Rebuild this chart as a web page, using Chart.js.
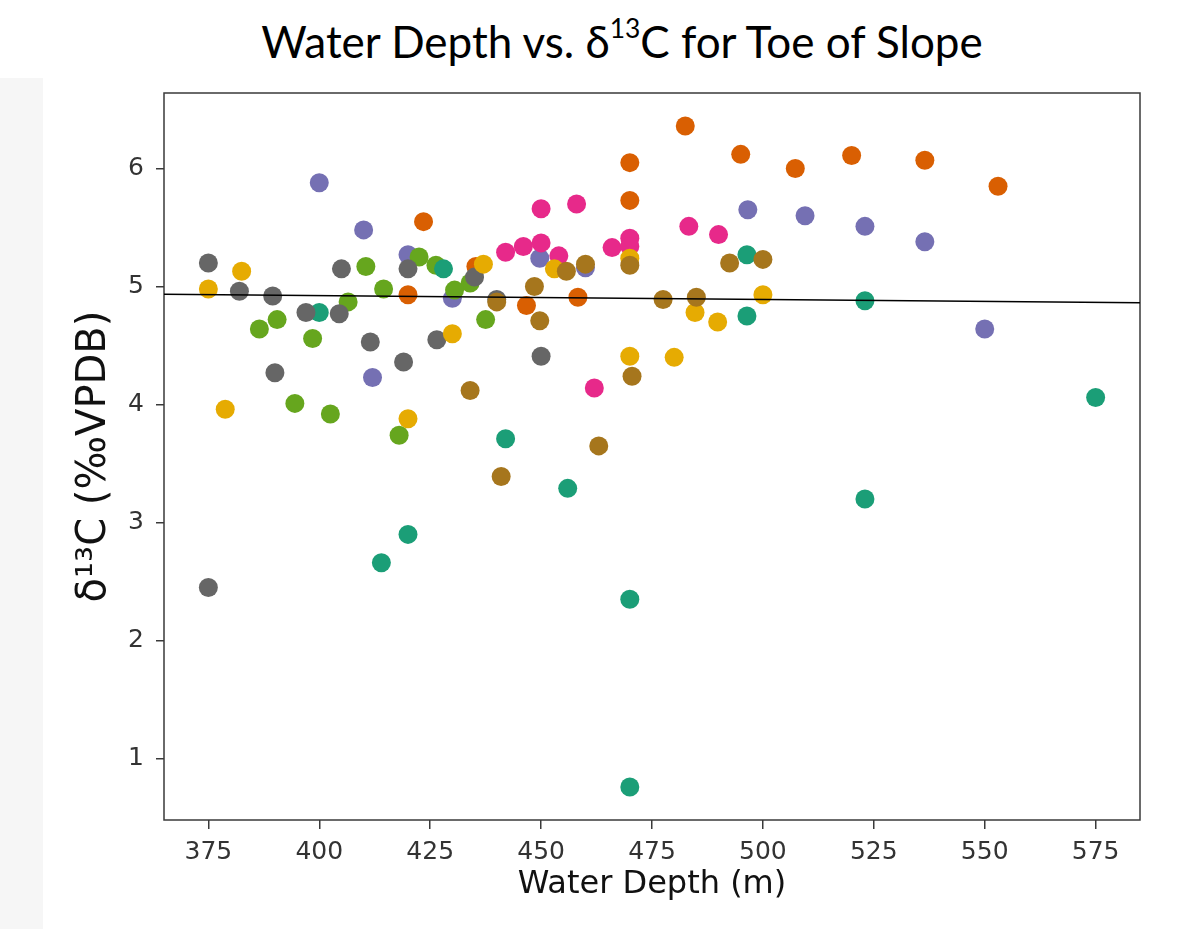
<!DOCTYPE html>
<html>
<head>
<meta charset="utf-8">
<title>Water Depth vs. d13C for Toe of Slope</title>
<script src="https://cdn.jsdelivr.net/npm/chart.js@4.4.1/dist/chart.umd.min.js"></script>
<style>
  body { margin: 0; background: #ffffff; width: 1194px; height: 929px; overflow: hidden; position: relative; }
  #strip { position: absolute; left: 0; top: 78px; width: 43px; height: 851px; background: #f6f6f6; }
  #title { position: absolute; left: 222px; top: 19px; width: 800px; text-align: center;
           font-family: Lato, "Open Sans", sans-serif; font-size: 44px; line-height: 44px; color: #000; }
  #title sup { font-size: 0.6em; line-height: 0; vertical-align: 0.75em; }
  #my_chart { position: absolute; left: 0; top: 0; }
</style>
</head>
<body>
<div id="strip"></div>
<div id="title">Water Depth vs. δ<sup>13</sup>C for Toe of Slope</div>
<canvas id="my_chart" width="1194" height="929"></canvas>

<script>
// tick labels
const xTicks = [375, 400, 425, 450, 475, 500, 525, 550, 575];
const yTicks = [1, 2, 3, 4, 5, 6];

// one pair of arrays per colour group (water depth in m, d13C in permil)
const tealDepth = [400, 428, 420, 414, 442, 456, 470, 470, 496.4, 496.4, 523, 575, 523];
const tealD13C  = [4.78, 5.15, 2.90, 2.66, 3.71, 3.29, 2.35, 0.76, 5.27, 4.75, 4.88, 4.06, 3.20];

const orangeDepth = [423.5, 420, 435.3, 482.5, 470, 495, 507.3, 470, 446.7, 458.3, 520, 536.5, 553];
const orangeD13C  = [5.55, 4.93, 5.17, 6.36, 6.05, 6.12, 6.00, 5.73, 4.84, 4.91, 6.11, 6.07, 5.85];

const purpleDepth = [400, 410, 420, 430, 412, 449.7, 460, 496.6, 509.5, 523, 536.5, 550];
const purpleD13C  = [5.88, 5.48, 5.27, 4.90, 4.23, 5.24, 5.16, 5.65, 5.60, 5.51, 5.38, 4.64];

const pinkDepth = [450, 458, 483.3, 490, 442, 446, 450, 454, 466, 470, 470, 462];
const pinkD13C  = [5.66, 5.70, 5.51, 5.44, 5.29, 5.34, 5.37, 5.26, 5.33, 5.41, 5.34, 4.14];

const greenDepth = [410.5, 422.5, 426.3, 434, 414.5, 430.5, 437.5, 406.5, 386.5, 390.5, 398.5, 394.5, 402.5, 418];
const greenD13C  = [5.17, 5.25, 5.18, 5.03, 4.98, 4.97, 4.72, 4.87, 4.64, 4.72, 4.56, 4.01, 3.92, 3.74];

const yellowDepth = [375, 382.5, 437, 430, 378.8, 420, 453, 470, 484.7, 489.8, 500, 470, 480];
const yellowD13C  = [4.98, 5.13, 5.19, 4.60, 3.96, 3.88, 5.15, 5.24, 4.78, 4.70, 4.93, 4.41, 4.40];

const brownDepth = [434, 455.7, 460, 470, 448.5, 440, 449.7, 477.5, 485, 492.5, 500, 470.5, 463, 441];
const brownD13C  = [4.12, 5.13, 5.19, 5.18, 5.00, 4.87, 4.71, 4.89, 4.91, 5.20, 5.23, 4.24, 3.65, 3.39];

const greyDepth = [375, 405, 420, 435, 382, 389.5, 397, 404.5, 411.5, 426.5, 390, 419, 375, 450, 440];
const greyD13C  = [5.20, 5.15, 5.15, 5.08, 4.96, 4.92, 4.78, 4.77, 4.53, 4.55, 4.27, 4.36, 2.45, 4.41, 4.89];

// trend line end points
const trendDepth = [365, 585];
const trendD13C  = [4.935, 4.862];

function toPoints(xs, ys) {
  return xs.map((x, i) => ({x: x, y: ys[i]}));
}

// frame round the plot area (matplotlib style box)
const frame = {
  id: 'frame',
  beforeDatasetsDraw(chart) {
    const a = chart.chartArea;
    const ctx = chart.ctx;
    ctx.save();
    ctx.strokeStyle = '#3a3a3a';
    ctx.lineWidth = 1.5;
    ctx.strokeRect(a.left, a.top, a.right - a.left, a.bottom - a.top);
    ctx.restore();
  }
};

function scatter(label, xs, ys, color, order) {
  return {
    type: 'scatter',
    label: label,
    data: toPoints(xs, ys),
    backgroundColor: color,
    borderWidth: 0,
    pointRadius: 9.5,
    pointHoverRadius: 9.5,
    order: order
  };
}

const myChart = document.getElementById('my_chart');

let scatterChart = new Chart(myChart, {
  type: 'scatter',
  data: {
    datasets: [
      {
        type: 'line',
        label: 'trend',
        data: toPoints(trendDepth, trendD13C),
        borderColor: '#000000',
        borderWidth: 1.5,
        pointRadius: 0,
        fill: false,
        order: 0
      },
      scatter('brown', brownDepth, brownD13C, '#a6761d', 1),
      scatter('yellow', yellowDepth, yellowD13C, '#e6ab02', 2),
      scatter('grey', greyDepth, greyD13C, '#666666', 3),
      scatter('teal', tealDepth, tealD13C, '#1b9e77', 4),
      scatter('green', greenDepth, greenD13C, '#66a61e', 5),
      scatter('pink', pinkDepth, pinkD13C, '#e7298a', 6),
      scatter('purple', purpleDepth, purpleD13C, '#7570b3', 7),
      scatter('orange', orangeDepth, orangeD13C, '#d95f02', 8)
    ]
  },
  options: {
    responsive: false,
    animation: false,
    layout: { padding: { left: 60, right: 54, top: 93, bottom: 10 } },
    plugins: { legend: { display: false }, tooltip: { enabled: false } },
    scales: {
      x: {
        type: 'linear',
        min: 365,
        max: 585,
        afterBuildTicks: axis => { axis.ticks = xTicks.map(v => ({value: v})); },
        afterFit: axis => { axis.height = 99; },
        grid: { drawOnChartArea: false, drawTicks: true, tickLength: 9, color: '#3a3a3a', lineWidth: 1.5 },
        border: { display: false },
        ticks: { color: '#333333', padding: 8, font: { family: 'DejaVu Sans', size: 25 } },
        title: {
          display: true,
          text: 'Water Depth (m)',
          color: '#111111',
          padding: { top: 0, bottom: 15 },
          font: { family: 'DejaVu Sans', size: 32 }
        }
      },
      y: {
        type: 'linear',
        min: 0.48,
        max: 6.64,
        afterBuildTicks: axis => { axis.ticks = yTicks.map(v => ({value: v})); },
        afterFit: axis => { axis.width = 104; },
        grid: { drawOnChartArea: false, drawTicks: true, tickLength: 8, color: '#3a3a3a', lineWidth: 1.5 },
        border: { display: false },
        ticks: { color: '#333333', padding: 12, font: { family: 'DejaVu Sans', size: 25 } },
        title: {
          display: true,
          text: 'δ¹³C (‰VPDB)',
          color: '#111111',
          padding: { top: 11, bottom: 0 },
          font: { family: 'DejaVu Sans', size: 40 }
        }
      }
    }
  },
  plugins: [frame]
});
</script>
</body>
</html>
